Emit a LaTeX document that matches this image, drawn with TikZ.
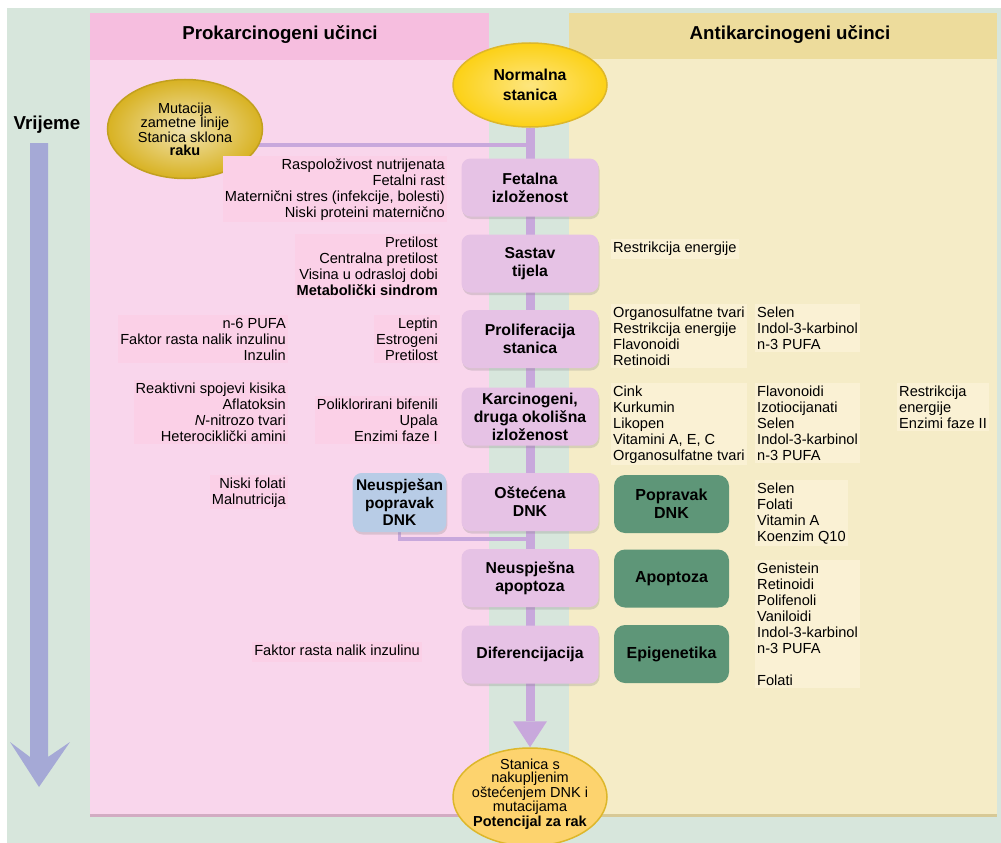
\documentclass[tikz,border=0pt]{standalone}
\usepackage{fontspec}
\setmainfont{Liberation Sans}
\usetikzlibrary{arrows.meta,positioning,shapes.geometric,shadows}
\definecolor{bgGreen}{HTML}{D7E6DC}
\definecolor{proHead}{HTML}{F6BEDF}
\definecolor{proBody}{HTML}{F9D6EC}
\definecolor{proText}{HTML}{FBD0E7}
\definecolor{antiHead}{HTML}{EDDC9C}
\definecolor{antiBody}{HTML}{F5ECC7}
\definecolor{antiText}{HTML}{FAF1D4}
\definecolor{stepFill}{HTML}{E6C2E5}
\definecolor{spineCol}{HTML}{C8A8DC}
\definecolor{timeCol}{HTML}{A5A9D6}
\definecolor{repFill}{HTML}{5E9678}
\definecolor{failFill}{HTML}{B8CCE6}
\definecolor{cellYel}{HTML}{FCD116}
\definecolor{cellEdge}{HTML}{DDB72A}
\definecolor{germYel}{HTML}{D8B222}
\definecolor{endYel}{HTML}{FDD36E}
\pgfdeclarelayer{panels}
\pgfdeclarelayer{links}
\pgfsetlayers{panels,links,main}

\begin{document}
\begin{tikzpicture}[x=1pt,y=-1pt,
  stepbox/.style={fill=stepFill,rounded corners=9pt,minimum width=137pt,
                  minimum height=58pt,align=center,
                  font=\fontsize{15.8}{18}\selectfont\bfseries,
                  drop shadow={shadow xshift=1pt,shadow yshift=-2.5pt,opacity=.25}},
  repbox/.style={fill=repFill,rounded corners=11pt,minimum width=115pt,
                 minimum height=58pt,align=center,
                 font=\fontsize{16}{18}\selectfont\bfseries},
  cell/.style={ellipse,inner sep=0pt,align=center,line width=1.5pt},
  protxt/.style={anchor=north east,align=right,fill=proText,inner sep=2pt,
                 font=\fontsize{14.6}{16}\selectfont},
  antitxt/.style={anchor=north west,align=left,fill=antiText,inner sep=2pt,
                  font=\fontsize{14.6}{16}\selectfont},
  heading/.style={font=\fontsize{18.7}{20}\selectfont\bfseries},
  spine/.style={line width=9pt,draw=spineCol},
  link/.style={line width=3.5pt,draw=spineCol}
]
  \useasboundingbox (0,0) rectangle (1001,843);

  % panels
  \begin{pgfonlayer}{panels}
    \fill[bgGreen] (7,8) rectangle (1001,843);
    \fill[proBody] (90,13) rectangle (489,815);
    \fill[proHead] (90,13) rectangle (489,60);
    \draw[line width=3pt,draw=proHead!70!gray] (90,815) -- (489,815);
    \fill[antiBody] (569,13) rectangle (997,815);
    \fill[antiHead] (569,13) rectangle (997,59);
    \draw[line width=3pt,draw=antiHead!80!gray] (569,815) -- (997,815);
    % time arrow
    \fill[timeCol] (30,143) -- (48,143) -- (48,757) -- (70,742) -- (39,787)
      -- (10,742) -- (30,757) -- cycle;
  \end{pgfonlayer}

  \node[heading] (pro) at (280,35) {Prokarcinogeni učinci};
  \node[heading] (anti) at (790,35) {Antikarcinogeni učinci};
  \node[heading] (time) at (47,125) {Vrijeme};

  % cells
  \node[cell,draw=cellEdge,inner color=cellYel!55!white,outer color=cellYel,
        minimum width=154pt,minimum height=84pt,
        font=\fontsize{15.8}{20}\selectfont\bfseries] (norm) at (530,85)
    {Normalna\\stanica};
  \node[cell,draw=germYel!90!black,inner color=germYel!35!white,outer color=germYel,
        minimum width=155pt,minimum height=99pt,
        font=\fontsize{14.5}{13}\selectfont] (mut) at (185,129)
    {Mutacija\\zametne linije\\Stanica sklona\\\textbf{raku}};
  \node[cell,draw=cellEdge,fill=endYel,minimum width=154pt,minimum height=98pt]
    (fin) at (530,797) {};
  \node[align=center,inner sep=0pt,font=\fontsize{14.5}{13.3}\selectfont]
    (finT) at (530,794)
    {Stanica s\\nakupljenim\\oštećenjem DNK i\\mutacijama\\\textbf{Potencijal za rak}};

  % steps
  \node[stepbox] (fet) at (530,187.5) {Fetalna\\izloženost};
  \node[stepbox] (sas) at (530,263.5) {Sastav\\tijela};
  \node[stepbox] (prol) at (530,339) {Proliferacija\\stanica};
  \node[stepbox] (kar) at (530,416.5) {Karcinogeni,\\druga okolišna\\izloženost};
  \node[stepbox] (ost) at (530,502) {Oštećena\\DNK};
  \node[stepbox] (apo) at (530,578) {Neuspješna\\apoptoza};
  \node[stepbox] (dif) at (530,654.5) {Diferencijacija};

  \node[fill=failFill,rounded corners=9pt,minimum width=93pt,minimum height=59pt,
        align=center,font=\fontsize{15.5}{17.5}\selectfont\bfseries,
        drop shadow={shadow xshift=1pt,shadow yshift=-2.5pt,opacity=.25}]
    (neu) at (399.5,502.5) {Neuspješan\\popravak\\DNK};

  \node[repbox] (pop) at (671.5,504) {Popravak\\DNK};
  \node[repbox] (apt) at (671.5,578.5) {Apoptoza};
  \node[repbox] (epi) at (671.5,654) {Epigenetika};

  % connectors
  \coordinate (jm) at (530,145);
  \begin{pgfonlayer}{links}
    \draw[spine] (norm.south) -- (dif.south);
    \draw[spine,-{Triangle[width=34pt,length=26pt,line width=0pt]}]
      (dif.south) -- (fin.north);
    \draw[link] (mut.center |- jm) -- (jm);
    \draw[link] (neu.south) |- ([yshift=-8pt]ost.south);
  \end{pgfonlayer}

  % prokarcinogeni
  \node[protxt] (tfet) at (447,156)
    {\strut Raspoloživost nutrijenata\\Fetalni rast\\Maternični stres (infekcije, bolesti)\\Niski proteini maternično};
  \node[protxt] (tsas) at (440,234)
    {\strut Pretilost\\Centralna pretilost\\Visina u odrasloj dobi\\\textbf{Metabolički sindrom}};
  \node[protxt] (tlep) at (440,315) {\strut Leptin\\Estrogeni\\Pretilost};
  \node[protxt] (tpufa) at (288,315) {\strut n-6 PUFA\\Faktor rasta nalik inzulinu\\Inzulin};
  \node[protxt] (tros) at (288,380)
    {\strut Reaktivni spojevi kisika\\Aflatoksin\\\textit{N}-nitrozo tvari\\Heterociklički amini};
  \node[protxt] (tpcb) at (440,396) {\strut Poliklorirani bifenili\\Upala\\Enzimi faze I};
  \node[protxt] (tfol) at (288,475) {\strut Niski folati\\Malnutricija};
  \node[protxt] (tigf) at (422,642) {\strut Faktor rasta nalik inzulinu};

  % antikarcinogeni
  \node[antitxt] (tre) at (611,239) {\strut Restrikcija energije};
  \node[antitxt] (tp1) at (611,304)
    {\strut Organosulfatne tvari\\Restrikcija energije\\Flavonoidi\\Retinoidi};
  \node[antitxt] (tp2) at (755,304) {\strut Selen\\Indol-3-karbinol\\n-3 PUFA};
  \node[antitxt] (tk1) at (611,383)
    {\strut Cink\\Kurkumin\\Likopen\\Vitamini A, E, C\\Organosulfatne tvari};
  \node[antitxt] (tk2) at (755,383)
    {\strut Flavonoidi\\Izotiocijanati\\Selen\\Indol-3-karbinol\\n-3 PUFA};
  \node[antitxt] (tk3) at (897,383) {\strut Restrikcija\\energije\\Enzimi faze II};
  \node[antitxt] (td2) at (755,480) {\strut Selen\\Folati\\Vitamin A\\Koenzim Q10};
  \node[antitxt] (ta2) at (755,560)
    {\strut Genistein\\Retinoidi\\Polifenoli\\Vaniloidi\\Indol-3-karbinol\\n-3 PUFA\\[16pt]Folati};
\end{tikzpicture}
\end{document}
